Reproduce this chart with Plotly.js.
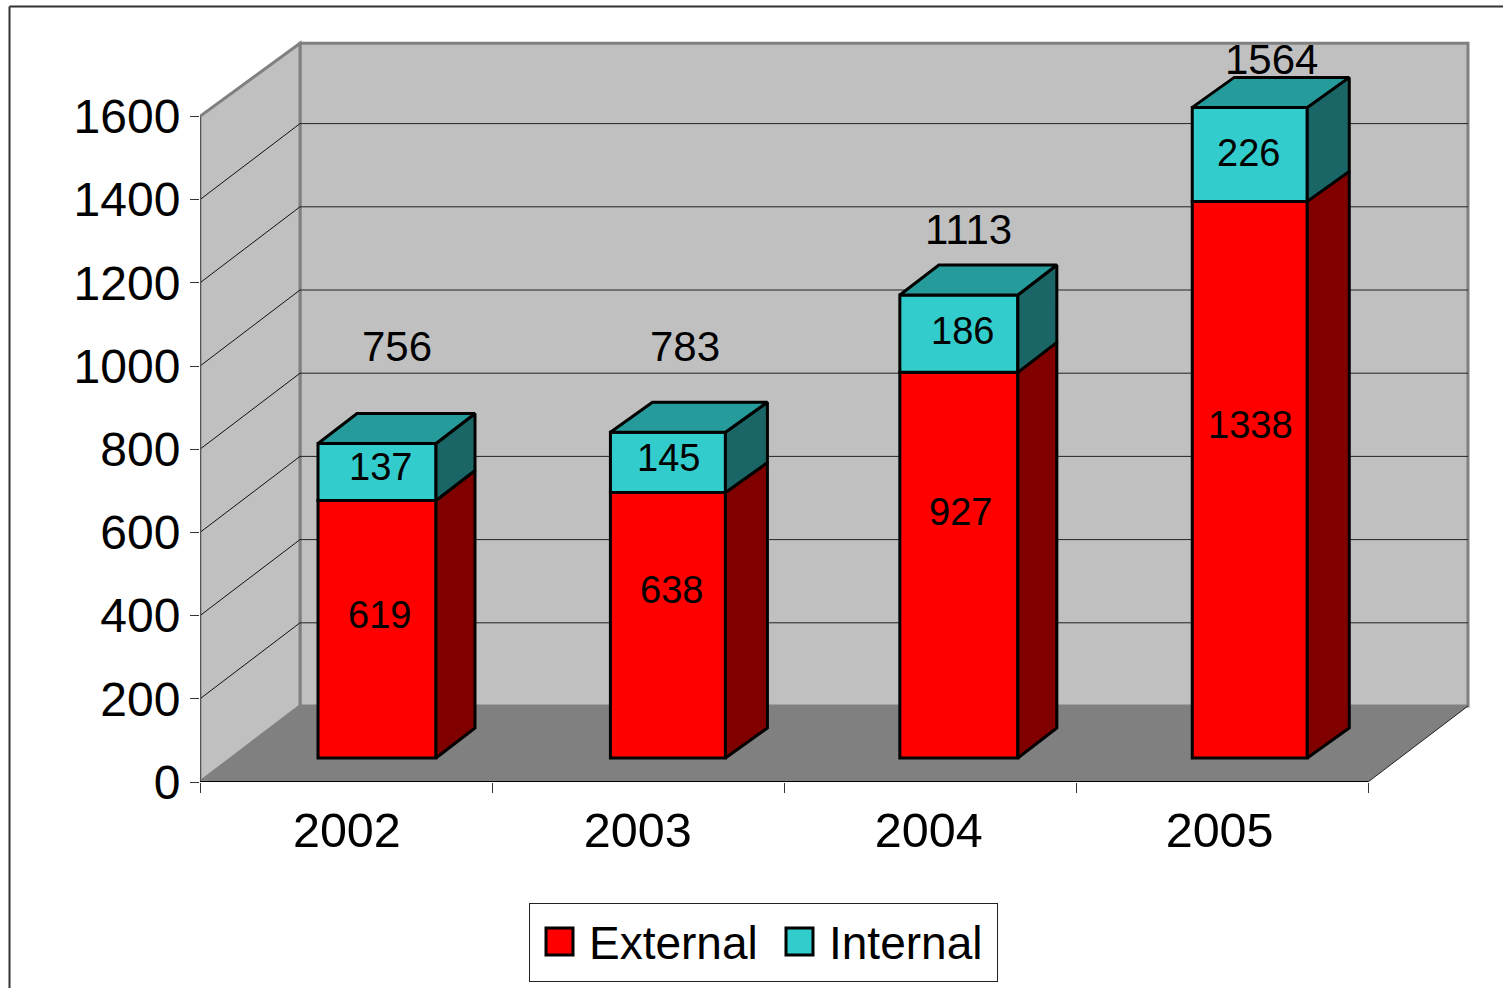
<!DOCTYPE html>
<html>
<head>
<meta charset="utf-8">
<script src="https://cdn.plot.ly/plotly-3.0.1.min.js"></script>
<style>html,body{margin:0;padding:0;background:#fff;overflow:hidden}#chart{width:1503px;height:988px}</style>
</head>
<body>
<div id="chart"></div>
<script>
// Training places per year, split by provider
const years = ['2002', '2003', '2004', '2005'];
const external = [619, 638, 927, 1338];
const internal = [137, 145, 186, 226];
const totals = [756, 783, 1113, 1564];
const yTicks = [0, 200, 400, 600, 800, 1000, 1200, 1400, 1600];

// Label nudges in pixels, relative to each segment's middle (or the bar top for totals)
const externalNudgeX = [2, 4, 2, 1];
const externalNudgeY = [14, 35, 53, 55];
const internalNudgeX = [3, 1, 4, -1];
const internalNudgeY = [5, 4, 3, 1];
const totalNudgeX = [20, 17, 10, 22];
const totalNudgeY = [96, 85, 64, 47];

// Oblique projection, in axis units
const box = {l: 200, t: 40, w: 1270, h: 742};
const pxPerValue = 0.416;
const pxPerSlot = 292;
const xMax = box.w / pxPerSlot;
const yMax = box.h / pxPerValue;
const roomDx = 100 / pxPerSlot;
const roomDy = 76 / pxPerValue;
const wallTop = 1776;
const barDx = [39 / pxPerSlot, 42 / pxPerSlot, 39 / pxPerSlot, 42 / pxPerSlot];
const barDy = 30 / pxPerValue;
const barFloor = 24 / pxPerValue;
const barFirst = 177 / pxPerSlot;
const barPitch = 0.9963;
const barWidths = [118 / pxPerSlot, 115 / pxPerSlot, 118 / pxPerSlot, 115 / pxPerSlot];

const RED = '#ff0000', CYAN = '#33cccc';
const centres = years.map((_, i) => barFirst + i * barPitch);
const leftX = i => centres[i] - barWidths[i] / 2;
const rightX = i => centres[i] + barWidths[i] / 2;

// Merge several closed outlines into one trace, split by nulls
function polygons(list) {
  const x = [], y = [];
  list.forEach(poly => {
    poly.forEach(p => { x.push(p[0]); y.push(p[1]); });
    x.push(poly[0][0], null); y.push(poly[0][1], null);
  });
  return {x, y};
}

function faceTrace(list, colour) {
  const g = polygons(list);
  return {x: g.x, y: g.y, type: 'scatter', mode: 'lines', fill: 'toself', fillcolor: colour,
    line: {color: '#000', width: 3}, showlegend: false, hoverinfo: 'skip', cliponaxis: false};
}

function sideFace(i, from, to) {
  const r = rightX(i);
  return [[r, from], [r + barDx[i], from + barDy], [r + barDx[i], to + barDy], [r, to]];
}

function topFace(i, at) {
  const l = leftX(i), r = rightX(i);
  return [[l, at], [l + barDx[i], at + barDy], [r + barDx[i], at + barDy], [r, at]];
}

const externalTop = external.map(v => barFloor + v);
const internalTop = internal.map((v, i) => externalTop[i] + v);

const traces = [
  {name: 'External', type: 'bar', x: centres, y: external, base: centres.map(() => barFloor), width: barWidths,
    marker: {color: RED, line: {color: '#000', width: 3}}, hoverinfo: 'skip'},
  {name: 'Internal', type: 'bar', x: centres, y: internal, base: externalTop, width: barWidths,
    marker: {color: CYAN, line: {color: '#000', width: 3}}, hoverinfo: 'skip'},
  faceTrace(years.map((_, i) => sideFace(i, barFloor, externalTop[i])), '#800000'),
  faceTrace(years.map((_, i) => sideFace(i, externalTop[i], internalTop[i])), '#1a6666'),
  faceTrace(years.map((_, i) => topFace(i, internalTop[i])), '#269b9b'),
  // Front edges of the chart room
  {x: [0, 0], y: [0, 1600], type: 'scatter', mode: 'lines', line: {color: '#555', width: 2},
    showlegend: false, hoverinfo: 'skip', cliponaxis: false},
  {x: [0, years.length], y: [0, 0], type: 'scatter', mode: 'lines', line: {color: '#000', width: 2},
    showlegend: false, hoverinfo: 'skip', cliponaxis: false}
];

const GREY_EDGE = '#808080';
const shapes = [];
function polyShape(points, fill, lineColor, lineWidth) {
  shapes.push({type: 'path', xref: 'x', yref: 'y', layer: 'below',
    path: 'M' + points.map(p => p[0] + ',' + p[1]).join('L') + 'Z',
    fillcolor: fill, line: {color: lineColor, width: lineWidth}});
}
function segment(x0, y0, x1, y1, colour, width) {
  shapes.push({type: 'line', xref: 'x', yref: 'y', layer: 'below', x0, y0, x1, y1,
    line: {color: colour, width}});
}

// Back wall, side wall and floor
polyShape([[roomDx, roomDy], [roomDx + years.length, roomDy], [roomDx + years.length, wallTop], [roomDx, wallTop]], '#c0c0c0', GREY_EDGE, 3);
polyShape([[0, 0], [roomDx, roomDy], [roomDx, wallTop], [0, 1600]], '#c0c0c0', GREY_EDGE, 3);
polyShape([[0, 0], [years.length, 0], [years.length + roomDx, roomDy], [roomDx, roomDy]], '#808080', '#808080', 0);
segment(years.length, 0, years.length + roomDx, roomDy, '#222', 1);

// Gridlines run along the side wall and across the back wall
yTicks.slice(1, -1).forEach(v => {
  segment(0, v, roomDx, v + roomDy, '#111', 1);
  segment(roomDx, v + roomDy, roomDx + years.length, v + roomDy, '#222', 1);
});

// Page frame along the top and left edges
const fx = px => (px - box.l) / box.w;
const fy = py => (box.t + box.h - py) / box.h;
shapes.push({type: 'line', xref: 'paper', yref: 'paper', x0: fx(9.5), x1: fx(1510), y0: fy(6.5), y1: fy(6.5), line: {color: '#333', width: 2}});
shapes.push({type: 'line', xref: 'paper', yref: 'paper', x0: fx(9.5), x1: fx(9.5), y0: fy(6.5), y1: fy(995), line: {color: '#333', width: 2}});

function label(x, y, value, dx, dy, size) {
  return {xref: 'x', yref: 'y', x, y, text: String(value), showarrow: false, xanchor: 'center', yanchor: 'middle',
    xshift: dx, yshift: dy, font: {size, color: '#000'}};
}
const annotations = [];
years.forEach((_, i) => {
  annotations.push(label(centres[i], barFloor + external[i] / 2, external[i], externalNudgeX[i], externalNudgeY[i], 38));
  annotations.push(label(centres[i], externalTop[i] + internal[i] / 2, internal[i], internalNudgeX[i], internalNudgeY[i], 38));
  annotations.push(label(centres[i], internalTop[i], totals[i], totalNudgeX[i], totalNudgeY[i] + 1, 42));
});

const layout = {
  width: 1503, height: 988,
  margin: {l: box.l, t: box.t, r: 1503 - box.l - box.w, b: 988 - box.t - box.h, pad: 0},
  paper_bgcolor: '#fff', plot_bgcolor: 'rgba(0,0,0,0)',
  font: {family: '"Liberation Sans", Arial, sans-serif', color: '#000', size: 47},
  barmode: 'overlay',
  xaxis: {range: [0, xMax], fixedrange: true, showgrid: false, zeroline: false, showline: false,
    tickmode: 'array', tickvals: years.map((_, i) => i * barPitch + 0.503), ticktext: years, ticks: '',
    ticklabelstandoff: 15, tickfont: {size: 48.5},
    minor: {tickmode: 'linear', tick0: 0, dtick: 1, ticks: 'outside', ticklen: 10, tickwidth: 1, tickcolor: '#333', showgrid: false}},
  yaxis: {range: [0, yMax], fixedrange: true, showgrid: false, zeroline: false, showline: false,
    tickmode: 'array', tickvals: yTicks, ticks: 'outside', ticklen: 9, tickwidth: 1, tickcolor: '#333',
    ticklabelstandoff: 0, tickfont: {size: 48}},
  legend: {orientation: 'h', xref: 'container', yref: 'container', x: 529 / 1503, y: 1 - 903 / 988,
    xanchor: 'left', yanchor: 'top', itemwidth: 49, entrywidth: 176, entrywidthmode: 'pixels',
    bgcolor: '#fff', bordercolor: '#222', borderwidth: 1, font: {size: 46}, itemclick: false, itemdoubleclick: false},
  shapes, annotations, showlegend: true
};

Plotly.newPlot('chart', traces, layout, {displayModeBar: false, responsive: false}).then(gd => {
  // Enlarge the legend swatches and give the box its padding
  gd.querySelectorAll('.legend .legendpoints path').forEach(p => {
    p.setAttribute('d', 'M13.5,13.5H-13.5V-13.5H13.5Z');
  });
  const bg = gd.querySelector('.legend rect.bg');
  const scroll = gd.querySelector('.legend .scrollbox');
  const grownBy = 78 - parseFloat(bg.getAttribute('height'));
  bg.setAttribute('height', 78);
  bg.setAttribute('width', 468);
  scroll.removeAttribute('clip-path');
  scroll.setAttribute('transform', 'translate(0,' + (grownBy / 2 - 1) + ')');
});
</script>
</body>
</html>
